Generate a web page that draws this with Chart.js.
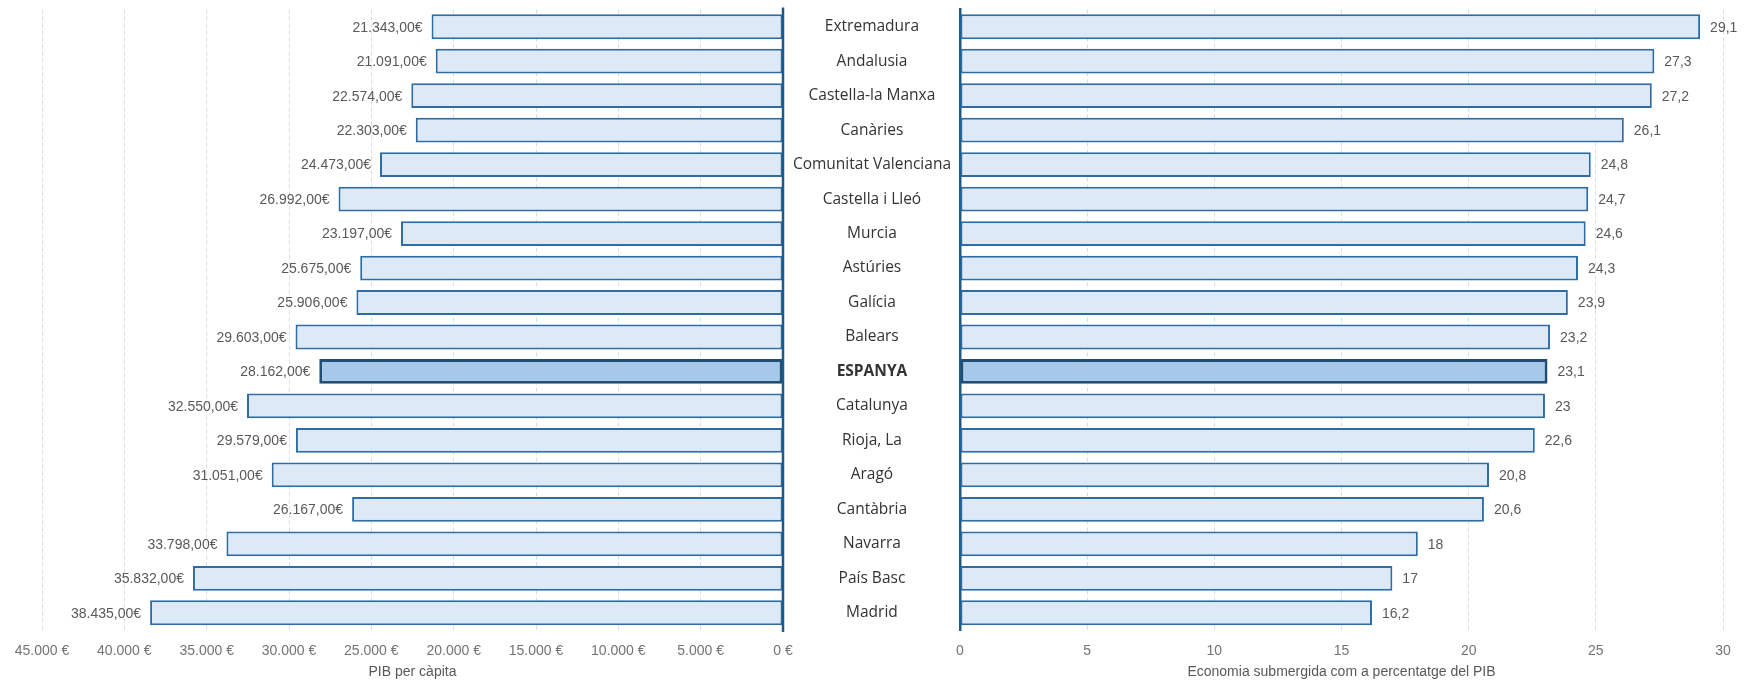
<!DOCTYPE html>
<html>
<head>
<meta charset="utf-8">
<script src="https://cdn.jsdelivr.net/npm/chart.js@4"></script>
<style>
body { margin: 0; background: #fff; }
#wrap { position: relative; width: 1744px; height: 682px; }
#left { position: absolute; left: 0; top: 0; }
#right { position: absolute; left: 783px; top: 0; }
</style>
</head>
<body>
<div id="wrap">
  <canvas id="left" width="820" height="682"></canvas>
  <canvas id="right" width="961" height="682"></canvas>
</div>
<script>
// comunitats, ordenades per economia submergida
var regions = ["Extremadura", "Andalusia", "Castella-la Manxa", "Canàries", "Comunitat Valenciana",
    "Castella i Lleó", "Murcia", "Astúries", "Galícia", "Balears", "ESPANYA", "Catalunya",
    "Rioja, La", "Aragó", "Cantàbria", "Navarra", "País Basc", "Madrid"];
var pib_capita = [21343, 21091, 22574, 22303, 24473, 26992, 23197, 25675, 25906, 29603,
    28162, 32550, 29579, 31051, 26167, 33798, 35832, 38435]; // euros
var eco_submergida = [29.1, 27.3, 27.2, 26.1, 24.8, 24.7, 24.6, 24.3, 23.9, 23.2,
    23.1, 23, 22.6, 20.8, 20.6, 18, 17, 16.2]; // % del PIB
var total_idx = regions.indexOf("ESPANYA");

var fill = "#dde9f6", edge = "#2f6ca3";
var fill_total = "#a6c9ea", edge_total = "#1f4e79";
var axis_col = "#1f5a87";
var txt_grey = "#595959";
var sans = "'Liberation Sans', Arial, sans-serif";

function thousands(n) {
    return String(n).replace(/\B(?=(\d{3})+(?!\d))/g, ".");
}
function euro_label(v) { return thousands(v) + ",00€"; }
function pct_label(v) { return String(v).replace(".", ","); }

var valueLabels = {
    id: "valueLabels",
    afterDatasetsDraw(chart, args, opts) {
        var ctx = chart.ctx;
        var meta = chart.getDatasetMeta(0);
        ctx.save();
        ctx.font = "14px " + sans;
        ctx.fillStyle = txt_grey;
        ctx.textBaseline = "middle";
        meta.data.forEach((bar, i) => {
            var v = chart.data.datasets[0].data[i];
            if (opts.side == "left") {
                ctx.textAlign = "right";
                ctx.fillText(euro_label(v), bar.x - 9, bar.y + 1);
            } else {
                ctx.textAlign = "left";
                ctx.fillText(pct_label(v), bar.x + 10, bar.y + 1);
            }
        });
        ctx.restore();
    }
};

// linia de l'eix al zero (grafic esquerre)
var zeroLine = {
    id: "zeroLine",
    afterDatasetsDraw(chart) {
        var ctx = chart.ctx;
        var x = chart.scales.x.getPixelForValue(0);
        ctx.save();
        ctx.strokeStyle = axis_col;
        ctx.lineWidth = 2.5;
        ctx.beginPath();
        ctx.moveTo(x, chart.chartArea.top - 2);
        ctx.lineTo(x, chart.chartArea.bottom + 2);
        ctx.stroke();
        ctx.restore();
    }
};

function barColors(a, b) {
    return regions.map((r, i) => i == total_idx ? b : a);
}

var xTicks = { color: "#737373", font: { family: sans, size: 14 }, padding: 13 };
var xTitle = (t) => ({ display: true, text: t, color: txt_grey, font: { family: sans, size: 14 }, padding: { top: 0, bottom: 0 } });
var dashGrid = { color: (c) => c.tick && c.tick.value == 0 ? "rgba(0,0,0,0)" : "#d3dee9", lineWidth: 1, drawTicks: false };
var fitX = (scale) => { scale.height = 51; };
var pad = { top: 9.5, bottom: 1 };

var leftChart = new Chart(document.getElementById("left").getContext("2d"), {
    type: "bar",
    data: {
        labels: regions,
        datasets: [{
            data: pib_capita,
            backgroundColor: barColors(fill, fill_total),
            borderColor: barColors(edge, edge_total),
            borderWidth: regions.map((r, i) => i == total_idx ? 3 : 2),
            borderSkipped: false,
            barPercentage: 0.72,
            categoryPercentage: 1
        }]
    },
    options: {
        responsive: false,
        animation: false,
        indexAxis: "y",
        layout: { padding: { left: 42, right: 37, top: pad.top, bottom: pad.bottom } },
        plugins: {
            legend: { display: false },
            tooltip: { enabled: false },
            valueLabels: { side: "left" }
        },
        scales: {
            x: {
                reverse: true,
                min: 0,
                max: 45000,
                afterFit: fitX,
                ticks: Object.assign({ stepSize: 5000, maxRotation: 0, callback: (v) => thousands(v) + " €" }, xTicks),
                grid: dashGrid,
                border: { display: false, dash: [4, 3] },
                title: xTitle("PIB per càpita")
            },
            y: { display: false }
        }
    },
    plugins: [valueLabels, zeroLine]
});

var rightChart = new Chart(document.getElementById("right").getContext("2d"), {
    type: "bar",
    data: {
        labels: regions,
        datasets: [{
            data: eco_submergida,
            backgroundColor: barColors(fill, fill_total),
            borderColor: barColors(edge, edge_total),
            borderWidth: regions.map((r, i) => i == total_idx ? 3 : 2),
            borderSkipped: false,
            barPercentage: 0.72,
            categoryPercentage: 1
        }]
    },
    options: {
        responsive: false,
        animation: false,
        indexAxis: "y",
        layout: { padding: { left: 0, right: 21, top: pad.top, bottom: pad.bottom } },
        plugins: {
            legend: { display: false },
            tooltip: { enabled: false },
            valueLabels: { side: "right" }
        },
        scales: {
            x: {
                min: 0,
                max: 30,
                afterFit: fitX,
                ticks: Object.assign({ stepSize: 5, maxRotation: 0 }, xTicks),
                grid: dashGrid,
                border: { display: false, dash: [4, 3] },
                title: xTitle("Economia submergida com a percentatge del PIB")
            },
            y: {
                afterFit: (scale) => {
                    scale.width = 177;
                    scale.paddingTop = 0; // no extra room for first/last label
                    scale.paddingBottom = 0;
                },
                grid: { display: false, drawTicks: false },
                border: { display: true, color: axis_col, width: 2.5 },
                ticks: {
                    crossAlign: "center",
                    padding: 9,
                    color: "#333333",
                    font: (c) => ({ family: "Open Sans", size: 15.5, weight: c.index == total_idx ? "bold" : "normal" })
                }
            }
        }
    },
    plugins: [valueLabels]
});
</script>
</body>
</html>
